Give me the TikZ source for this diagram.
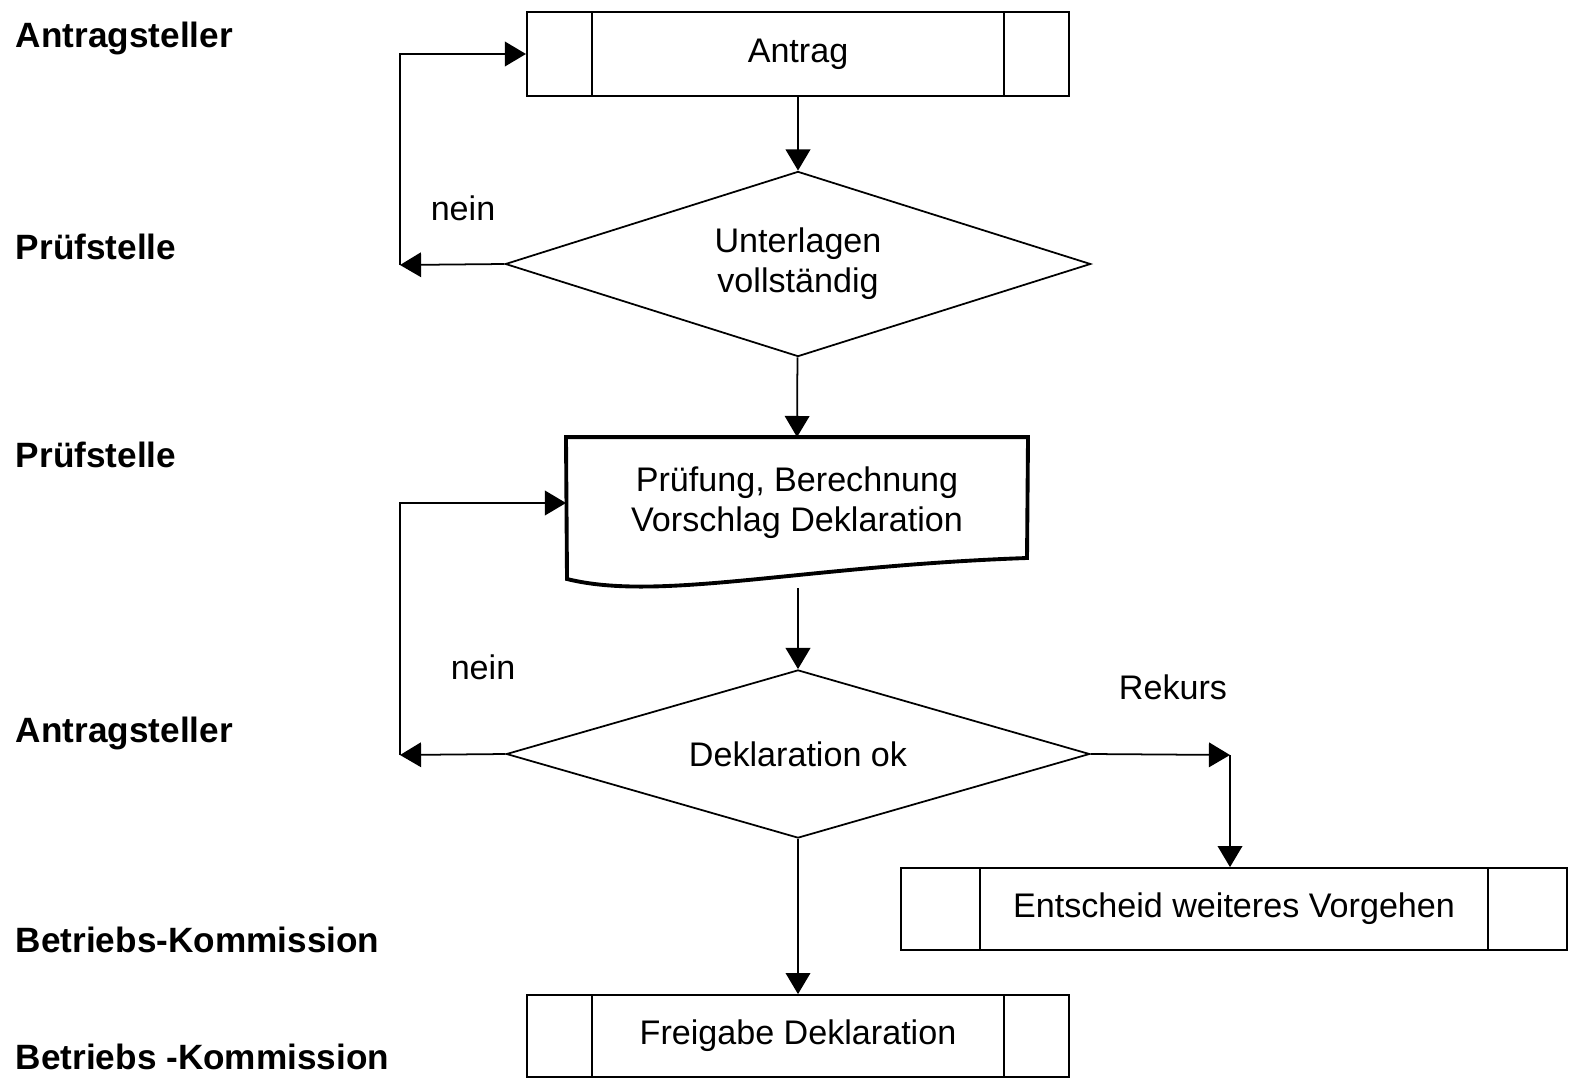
\documentclass[tikz,border=0pt]{standalone}
\usepackage{fontspec}
\setmainfont{Liberation Sans}
\usetikzlibrary{shapes.geometric,arrows.meta,calc}

\begin{document}
\begin{tikzpicture}[x=0.01cm, y=-0.01cm, every node/.style={font=\fontsize{9.7}{11.3}\selectfont}, line width=0.5pt,
	arr/.style={-{Triangle[length=6pt,width=7pt]}},
	procbox/.style={draw, minimum width=5.42cm, minimum height=0.84cm, inner sep=0pt, path picture={\draw ([xshift=#1]path picture bounding box.north west) -- ([xshift=#1]path picture bounding box.south west); \draw ([xshift=-#1]path picture bounding box.north east) -- ([xshift=-#1]path picture bounding box.south east);}},
	procbox/.default=0.65cm,
	decision/.style={draw, diamond, inner sep=0pt, align=center},
	lane/.style={anchor=west, inner sep=0pt, font=\fontsize{10}{12}\selectfont\bfseries}]
	\useasboundingbox (0,0) rectangle (1573,1088);
	\node[lane] (l1) at (15,38) {Antragsteller};
	\node[lane] (l2) at (15,247) {Prüfstelle};
	\node[lane] (l3) at (15,455) {Prüfstelle};
	\node[lane] (l4) at (15,733) {Antragsteller};
	\node[lane] (l5) at (15,940) {Betriebs-Kommission};
	\node[lane] (l6) at (15,1057) {Betriebs -Kommission};
	\node[procbox] (antrag) at (798,54) {Antrag};
	\node[decision, shape aspect=3.16, minimum width=5.85cm, minimum height=1.85cm] (unterlagen) at (798,264) {Unterlagen\\vollständig};
	\node[minimum width=4.6cm, minimum height=1.3cm, align=center] (pruefung) at (797,503) {Prüfung, Berechnung\\Vorschlag Deklaration};
	\draw[line width=1.1pt] (pruefung.north west) -- (pruefung.north east) -- (1027,558) .. controls (800,566) and (660,602) .. (567,579) -- cycle;
	\coordinate (pruefungout) at (798,588);
	\node[decision, shape aspect=3.47, minimum width=5.83cm, minimum height=1.68cm] (deklok) at (798,754) {Deklaration ok};
	\node[procbox=0.79cm, minimum width=6.66cm, minimum height=0.82cm] (entscheid) at (1234,909) {Entscheid weiteres Vorgehen};
	\node[procbox, minimum height=0.82cm] (freigabe) at (798,1036) {Freigabe Deklaration};
	\coordinate (nein1) at (400,265);
	\coordinate (nein2) at (400,755);
	\coordinate (rekurs) at (1230,755);
	\node (neintxt1) at (463,208) {nein};
	\node (neintxt2) at (483,667) {nein};
	\node (rekurstxt) at (1173,687) {Rekurs};
	\draw[arr] (antrag) -- (unterlagen);
	\draw[arr] (unterlagen.west) -- (nein1);
	\draw[arr] (nein1) |- (antrag.west);
	\draw[arr] (unterlagen) -- (pruefung.north);
	\draw[arr] (pruefungout) -- (deklok.north);
	\draw[arr] (deklok.west) -- (nein2);
	\draw[arr] (nein2) |- (pruefung.west);
	\draw[arr] (deklok.east) -- (rekurs);
	\draw[arr] (rekurs) -- (rekurs |- entscheid.north);
	\draw[arr] (deklok) -- (freigabe);
\end{tikzpicture}
\end{document}
